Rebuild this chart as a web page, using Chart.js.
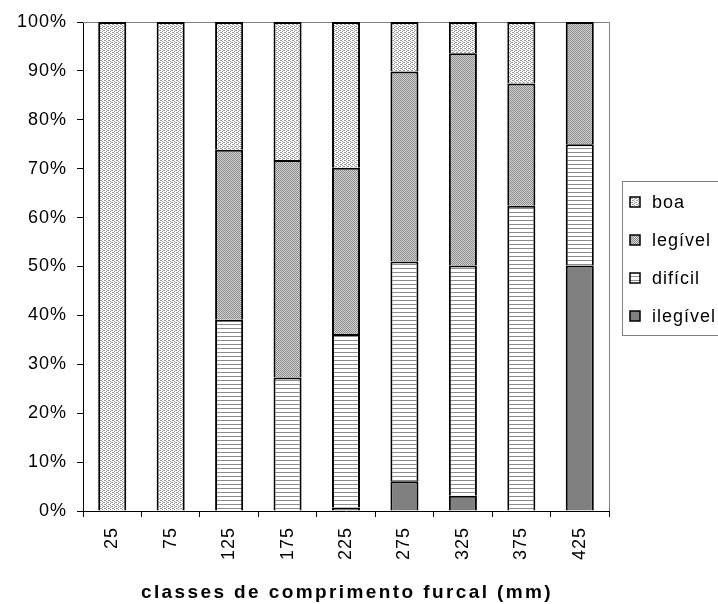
<!DOCTYPE html>
<html>
<head>
<meta charset="utf-8">
<script src="https://cdn.jsdelivr.net/npm/chart.js@4"></script>
<style>
  html, body { margin: 0; padding: 0; background: #fff; }
  #wrap { width: 718px; height: 604px; }
</style>
</head>
<body>
<div id="wrap"><canvas id="grafico"></canvas></div>
<script>
// classes de comprimento furcal (mm)
const classes = ['25', '75', '125', '175', '225', '275', '325', '375', '425'];
// percentagem por classe de legibilidade
const ilegivel = [0, 0, 0, 0, 0.7, 6.1, 3.1, 0, 50.2];
const dificil  = [0, 0, 39.1, 27.3, 35.5, 44.9, 47.1, 62.4, 24.8];
const legivel  = [0, 0, 34.8, 44.5, 34.0, 38.9, 43.4, 25.0, 25.0];
const boa      = [100, 100, 26.1, 28.2, 29.8, 10.1, 6.4, 12.6, 0];
const yTicks = [0, 10, 20, 30, 40, 50, 60, 70, 80, 90, 100];
const tituloX = 'classes de comprimento furcal (mm)';

function padrao(w, h, fundo, cor, pontos) {
    const c = document.createElement('canvas');
    c.width = w; c.height = h;
    const g = c.getContext('2d');
    g.fillStyle = fundo;
    g.fillRect(0, 0, w, h);
    g.fillStyle = cor;
    pontos.forEach(p => g.fillRect(p[0], p[1], 1, 1));
    return document.getElementById('grafico').getContext('2d').createPattern(c, 'repeat');
}

const corBoa = padrao(4, 4, '#ffffff', '#9a9a9a', [[0,0],[2,1],[0,2],[2,3],[1,0],[3,2]]);
const corLegivel = padrao(4, 4, '#d4d4d4', '#8a8a8a', [[0,0],[2,0],[1,1],[3,1],[0,2],[2,2],[1,3],[3,3]]);
const corDificil = padrao(1, 4, '#ffffff', '#8c8c8c', [[0,0]]);
const corIlegivel = '#808080';

Chart.defaults.font.family = "'Liberation Sans', Arial, sans-serif";
Chart.defaults.font.size = 18;
Chart.defaults.color = '#000';

const legendaItens = [
    { texto: 'boa', cor: corBoa },
    { texto: 'legível', cor: corLegivel },
    { texto: 'difícil', cor: corDificil },
    { texto: 'ilegível', cor: corIlegivel }
];

const extras = {
    id: 'extras',
    beforeDraw(chart) {
        chart.ctx.letterSpacing = '1px';
    },
    beforeDatasetsDraw(chart) {
        const { ctx, chartArea: a } = chart;
        ctx.save();
        ctx.strokeStyle = '#808080';
        ctx.lineWidth = 1;
        ctx.beginPath();
        ctx.moveTo(a.left, a.top + 0.5);
        ctx.lineTo(a.right + 0.5, a.top + 0.5);
        ctx.lineTo(a.right + 0.5, a.bottom);
        ctx.stroke();
        ctx.restore();
    },
    afterDraw(chart) {
        const ctx = chart.ctx;
        const a = chart.chartArea;
        ctx.save();
        // titulo do eixo x (espaçado como no original)
        ctx.font = "bold 19px 'Liberation Sans', Arial, sans-serif";
        ctx.letterSpacing = '2.4px';
        ctx.textAlign = 'center';
        ctx.textBaseline = 'alphabetic';
        ctx.fillStyle = '#000';
        ctx.fillText(tituloX, (a.left + a.right) / 2 + 1, 598);

        // legenda
        ctx.strokeStyle = '#808080';
        ctx.lineWidth = 1;
        ctx.strokeRect(622.5, 181.5, 110, 154);
        ctx.font = "18px 'Liberation Sans', Arial, sans-serif";
        ctx.letterSpacing = '1px';
        ctx.textBaseline = 'middle';
        ctx.textAlign = 'left';
        legendaItens.forEach((item, i) => {
            const y = 202 + i * 38;
            ctx.fillStyle = item.cor;
            ctx.fillRect(630, y - 5, 10, 10);
            ctx.strokeStyle = '#000';
            ctx.lineWidth = 1.5;
            ctx.strokeRect(630, y - 5, 10, 10);
            ctx.fillStyle = '#000';
            ctx.fillText(item.texto, 652, y + 1);
        });
        ctx.restore();
    }
};

function serie(label, data, cor) {
    return {
        label: label,
        data: data,
        backgroundColor: cor,
        borderColor: '#000',
        borderWidth: 2,
        barPercentage: 0.6,
        categoryPercentage: 0.8
    };
}

new Chart(document.getElementById('grafico'), {
    type: 'bar',
    data: {
        labels: classes,
        datasets: [
            serie('ilegível', ilegivel, corIlegivel),
            serie('difícil', dificil, corDificil),
            serie('legível', legivel, corLegivel),
            serie('boa', boa, corBoa)
        ]
    },
    options: {
        responsive: true,
        maintainAspectRatio: false,
        animation: false,
        layout: { padding: { top: 22, right: 109, left: 0, bottom: 0 } },
        plugins: {
            legend: { display: false },
            tooltip: { enabled: false }
        },
        scales: {
            x: {
                stacked: true,
                afterFit: s => { s.height = 93; },
                grid: { display: true, drawOnChartArea: false, tickLength: 6, color: '#000', offset: true },
                border: { display: true, color: '#000', width: 1 },
                ticks: { minRotation: 90, maxRotation: 90, padding: 10, autoSkip: false },
                title: { display: false }
            },
            y: {
                stacked: true,
                min: 0,
                max: 100,
                afterFit: s => { s.width = 83; },
                afterBuildTicks: s => { s.ticks = yTicks.map(v => ({ value: v })); },
                grid: { display: true, drawOnChartArea: false, tickLength: 6, color: '#000' },
                border: { display: true, color: '#000', width: 1 },
                ticks: { padding: 10, callback: v => v + '%' }
            }
        }
    },
    plugins: [extras]
});
</script>
</body>
</html>
